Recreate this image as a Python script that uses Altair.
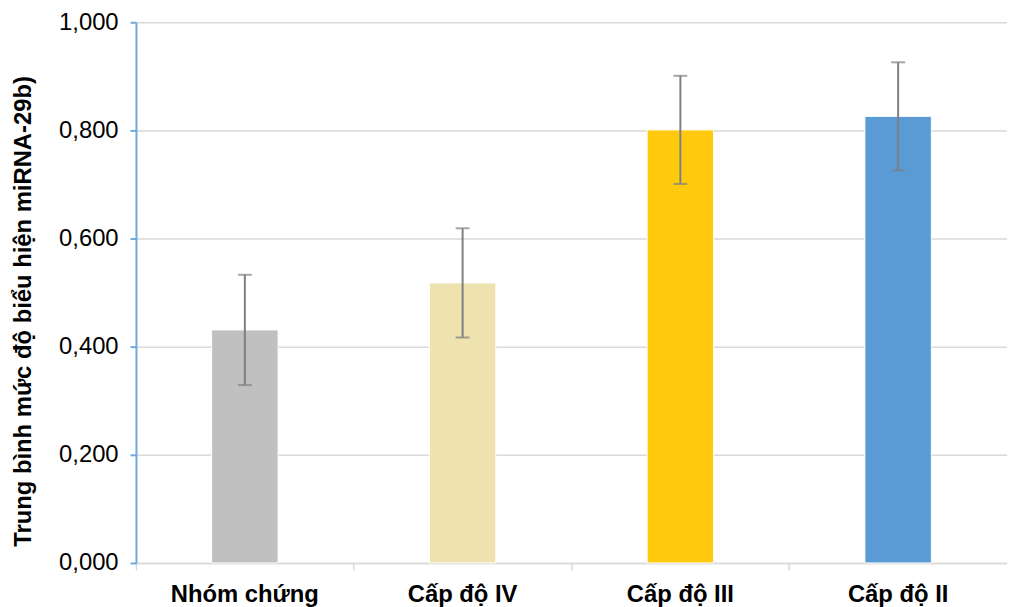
import altair as alt
import pandas as pd

categories = ["Nhóm chứng", "Cấp độ IV", "Cấp độ III", "Cấp độ II"]
means = [0.431, 0.518, 0.801, 0.826]
errors = [0.102, 0.101, 0.100, 0.100]
colors = ["#C0C0C0", "#EEE2AE", "#FFC90E", "#5B9BD5"]

df = pd.DataFrame({
    "cat": categories,
    "mean": means,
    "lo": [m - e for m, e in zip(means, errors)],
    "hi": [m + e for m, e in zip(means, errors)],
})

FONT = "Liberation Sans"

x = alt.X("cat:N", sort=categories,
          scale=alt.Scale(paddingInner=0, paddingOuter=0),
          axis=alt.Axis(title=None, bandPosition=0, labelAngle=0,
                        labelFont=FONT, labelFontSize=24, labelFontWeight="bold",
                        labelColor="#000000", labelPadding=13,
                        domainColor="#D9D9D9", domainWidth=1.5,
                        tickColor="#D9D9D9", tickWidth=1.5, tickSize=7,
                        grid=False))

y_axis = alt.Axis(title="Trung bình mức độ biểu hiện miRNA-29b)",
                  titleFont=FONT, titleFontSize=24, titleFontWeight="bold",
                  titleColor="#000000", titleX=-101, titleY=291,
                  values=[0, 0.2, 0.4, 0.6, 0.8, 1.0],
                  labelExpr="replace(format(datum.value, '.3f'), '.', ',')",
                  labelFont=FONT, labelFontSize=24, labelColor="#000000",
                  labelPadding=12,
                  domainColor="#6FA8DC", domainWidth=2,
                  tickColor="#6FA8DC", tickWidth=2, tickSize=6,
                  grid=True, gridColor="#D9D9D9", gridWidth=1.5)

base = alt.Chart(df)

bars = base.mark_bar(size=67, stroke="white", strokeWidth=1).encode(
    x=x,
    y=alt.Y("mean:Q", scale=alt.Scale(domain=[0, 1.0], nice=False), axis=y_axis),
    color=alt.Color("cat:N", sort=categories,
                    scale=alt.Scale(domain=categories, range=colors), legend=None),
)

rules = base.mark_rule(color="#7F7F7F", strokeWidth=2).encode(
    x=alt.X("cat:N", sort=categories),
    y="lo:Q",
    y2="hi:Q",
)

caps_hi = base.mark_tick(color="#7F7F7F", thickness=2, size=14, orient="horizontal").encode(
    x=alt.X("cat:N", sort=categories),
    y="hi:Q",
)
caps_lo = base.mark_tick(color="#7F7F7F", thickness=2, size=14, orient="horizontal").encode(
    x=alt.X("cat:N", sort=categories),
    y="lo:Q",
)

chart = alt.layer(bars, rules, caps_hi, caps_lo).properties(
    width=878, height=545,
    autosize=alt.AutoSizeParams(type="none"),
    padding={"left": 129, "top": 12, "right": 0, "bottom": 42},
    background="white",
).configure_view(stroke=None)

chart.save("out.html", embed_options={"renderer": "svg", "actions": False})
